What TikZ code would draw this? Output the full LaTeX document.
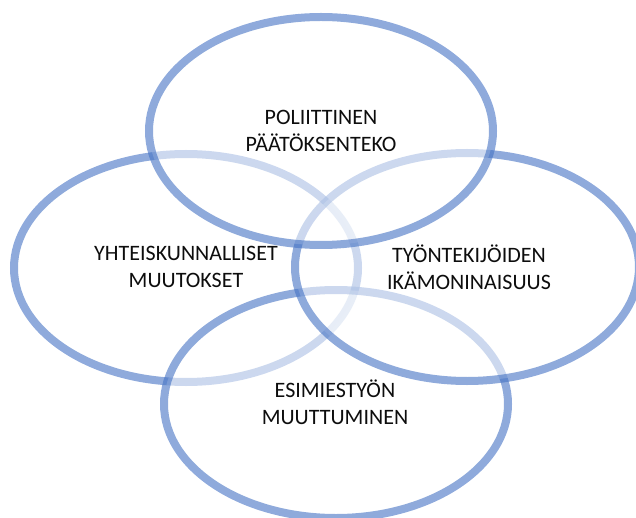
\documentclass[tikz,border=0pt]{standalone}
\usepackage{fontspec}
\setmainfont{Carlito}
\usetikzlibrary{shapes.geometric}
\definecolor{vblue}{HTML}{4472C4}
\begin{document}
\begin{tikzpicture}[x=1pt,y=-1pt,
  venn/.style={ellipse, draw=vblue, draw opacity=0.6, line width=8pt, fill=white, fill opacity=0.55, minimum width=344pt, minimum height=228pt, inner sep=0pt},
  lbl/.style={align=center, font=\fontsize{22}{27}\selectfont, text=black!95, inner sep=0pt}]
\useasboundingbox (0,0) rectangle (636,518);
\clip (0,0) rectangle (636,518);
\node[venn] (left) at (186,268) {};
\node[venn] (bottom) at (336,404) {};
\node[venn] (right) at (467,267) {};
\node[venn] (top) at (321,131) {};
\node[lbl] (tTop) at (321,131) {POLIITTINEN\\PÄÄTÖKSENTEKO};
\node[lbl] (tLeft) at (186,267) {YHTEISKUNNALLISET\\MUUTOKSET};
\node[lbl] (tRight) at (469,267) {TYÖNTEKIJÖIDEN\\IKÄMONINAISUUS};
\node[lbl] (tBottom) at (335,402) {ESIMIESTYÖN\\MUUTTUMINEN};
\end{tikzpicture}
\end{document}
